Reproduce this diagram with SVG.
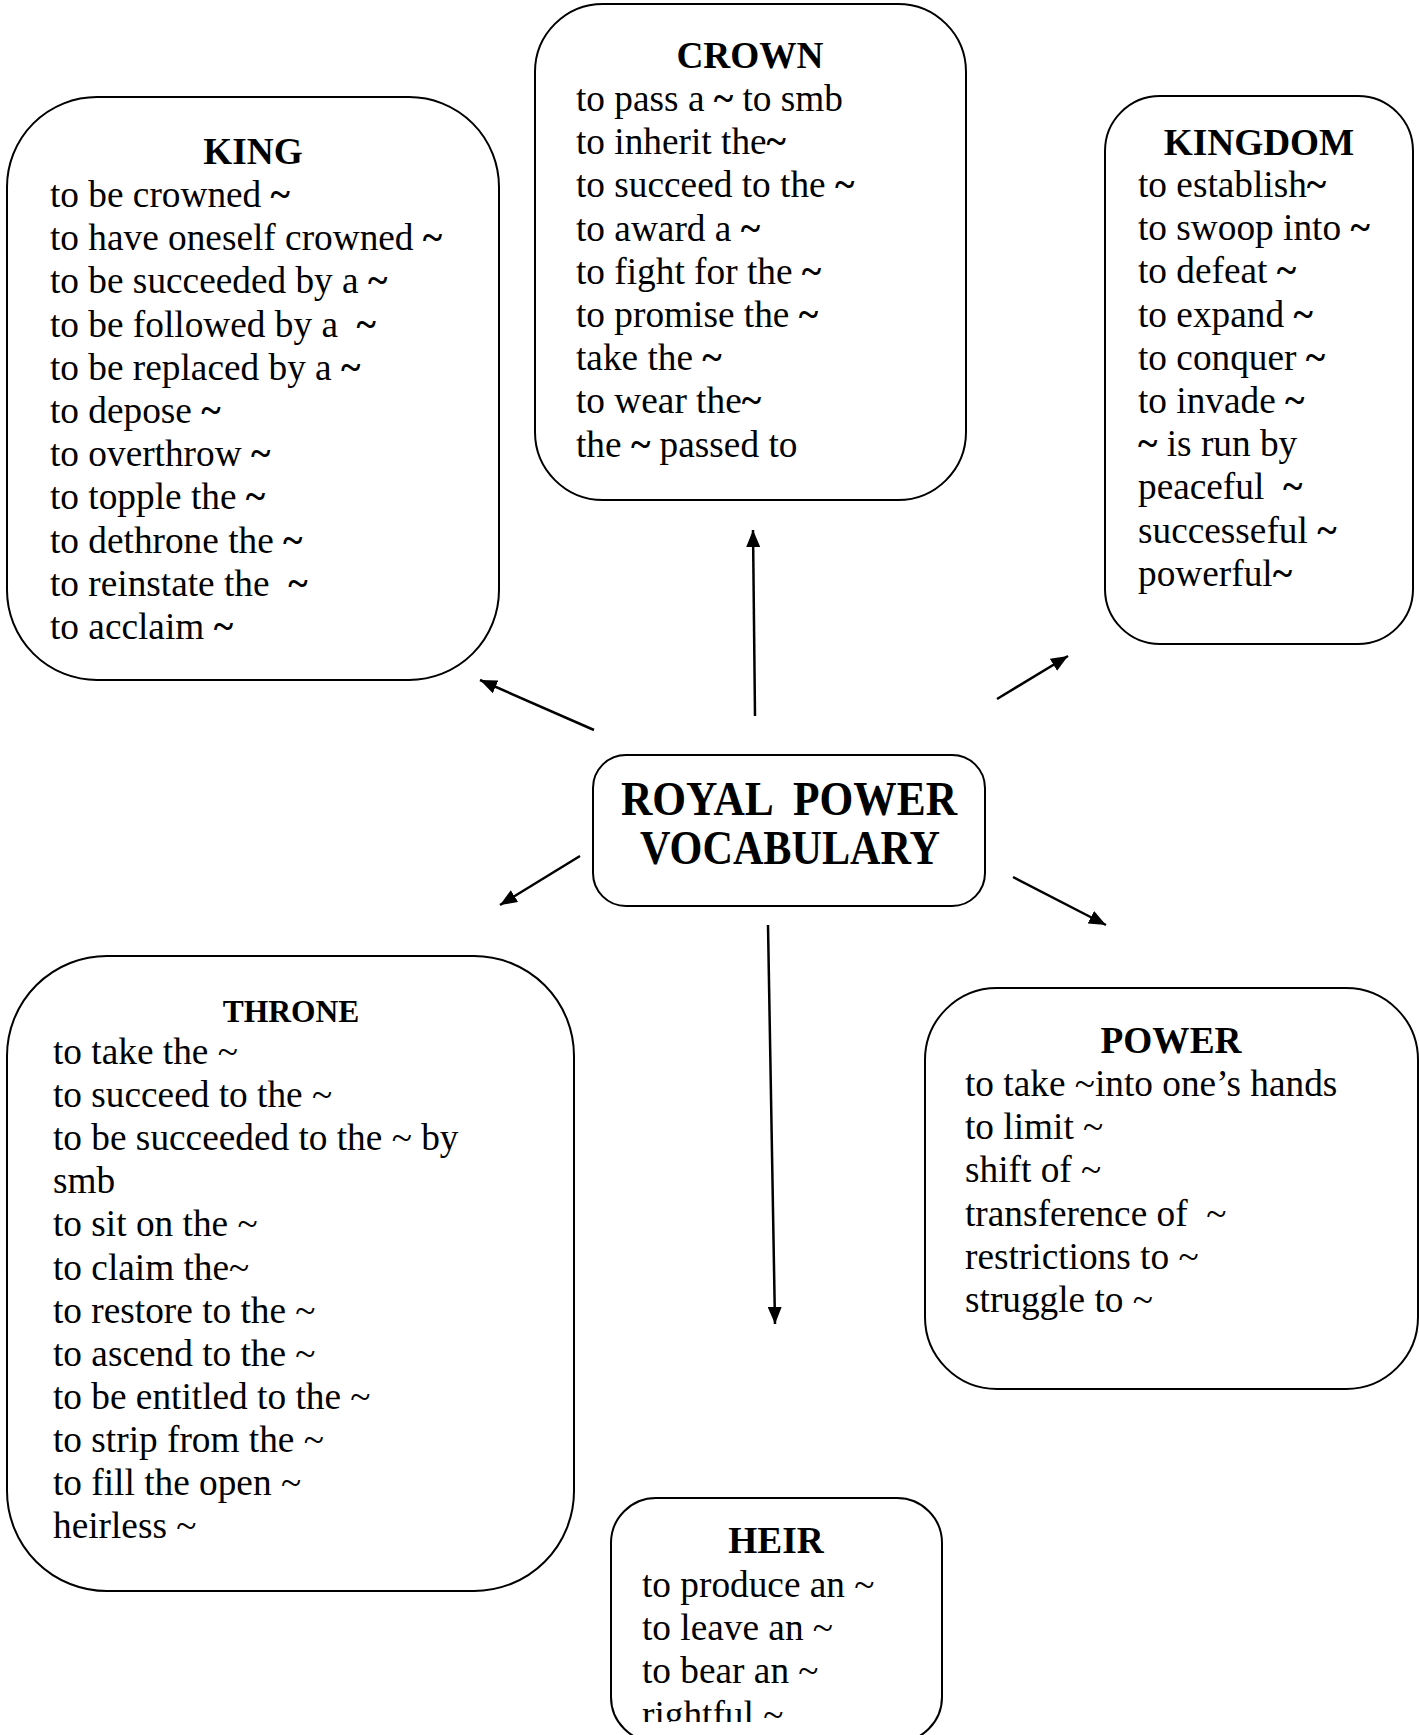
<svg xmlns="http://www.w3.org/2000/svg" width="1419" height="1735" viewBox="0 0 1419 1735">
<style>
  text { font-family: "Liberation Serif", "Times New Roman", serif; fill: #000; white-space: pre; }
  .t { font-size: 37.3px; }
  .h { font-size: 37.3px; font-weight: bold; text-anchor: middle; }
  .hs { font-size: 31.5px; font-weight: bold; text-anchor: middle; }
  .c { font-size: 48px; font-weight: bold; }
  .b { font-weight: bold; }
  .box { fill: #fff; stroke: #000; stroke-width: 2; }
  .con { stroke: #000; stroke-width: 2.5; fill: none; marker-end: url(#arr); }
</style>
<defs>
  <marker id="arr" markerUnits="userSpaceOnUse" markerWidth="18" markerHeight="14" refX="17" refY="7" orient="auto">
    <path d="M0,0 L17,7 L0,14 z" fill="#000"/>
  </marker>
  <clipPath id="heirclip"><rect x="600" y="1480" width="360" height="242"/></clipPath>
</defs>
<rect width="1419" height="1735" fill="#fff"/>

<g id="connectors">
  <line class="con" x1="594" y1="730" x2="480" y2="680"/>
  <line class="con" x1="755" y1="716" x2="753" y2="530"/>
  <line class="con" x1="997" y1="699" x2="1068" y2="656"/>
  <line class="con" x1="580" y1="856" x2="500" y2="905"/>
  <line class="con" x1="1013" y1="877" x2="1106" y2="925"/>
  <line class="con" x1="768" y1="925" x2="775" y2="1324"/>
</g>

<g id="king">
  <rect class="box" x="7" y="97" width="492" height="583" rx="90"/>
  <text class="h" x="253" y="164">KING</text>
  <text class="t" x="50" y="207">to be crowned <tspan class="b">~</tspan></text>
  <text class="t" x="50" y="250.2">to have oneself crowned <tspan class="b">~</tspan></text>
  <text class="t" x="50" y="293.4">to be succeeded by a <tspan class="b">~</tspan></text>
  <text class="t" x="50" y="336.6">to be followed by a  <tspan class="b">~</tspan></text>
  <text class="t" x="50" y="379.8">to be replaced by a <tspan class="b">~</tspan></text>
  <text class="t" x="50" y="423">to depose <tspan class="b">~</tspan></text>
  <text class="t" x="50" y="466.2">to overthrow <tspan class="b">~</tspan></text>
  <text class="t" x="50" y="509.4">to topple the <tspan class="b">~</tspan></text>
  <text class="t" x="50" y="552.6">to dethrone the <tspan class="b">~</tspan></text>
  <text class="t" x="50" y="595.8">to reinstate the  <tspan class="b">~</tspan></text>
  <text class="t" x="50" y="639">to acclaim <tspan class="b">~</tspan></text>
</g>

<g id="crown">
  <rect class="box" x="535" y="4" width="431" height="496" rx="68"/>
  <text class="h" x="750" y="68">CROWN</text>
  <text class="t" x="576" y="111">to pass a <tspan class="b">~</tspan> to smb</text>
  <text class="t" x="576" y="154.2">to inherit the<tspan class="b">~</tspan></text>
  <text class="t" x="576" y="197.4">to succeed to the <tspan class="b">~</tspan></text>
  <text class="t" x="576" y="240.6">to award a <tspan class="b">~</tspan></text>
  <text class="t" x="576" y="283.8">to fight for the <tspan class="b">~</tspan></text>
  <text class="t" x="576" y="327">to promise the <tspan class="b">~</tspan></text>
  <text class="t" x="576" y="370.2">take the <tspan class="b">~</tspan></text>
  <text class="t" x="576" y="413.4">to wear the<tspan class="b">~</tspan></text>
  <text class="t" x="576" y="456.6">the <tspan class="b">~</tspan> passed to</text>
</g>

<g id="kingdom">
  <rect class="box" x="1105" y="96" width="308" height="548" rx="55"/>
  <text class="h" x="1259" y="155">KINGDOM</text>
  <text class="t" x="1138" y="197">to establish<tspan class="b">~</tspan></text>
  <text class="t" x="1138" y="240.2">to swoop into <tspan class="b">~</tspan></text>
  <text class="t" x="1138" y="283.4">to defeat <tspan class="b">~</tspan></text>
  <text class="t" x="1138" y="326.6">to expand <tspan class="b">~</tspan></text>
  <text class="t" x="1138" y="369.8">to conquer <tspan class="b">~</tspan></text>
  <text class="t" x="1138" y="413">to invade <tspan class="b">~</tspan></text>
  <text class="t" x="1138" y="456.2"><tspan class="b">~</tspan> is run by</text>
  <text class="t" x="1138" y="499.4">peaceful  <tspan class="b">~</tspan></text>
  <text class="t" x="1138" y="542.6">successeful <tspan class="b">~</tspan></text>
  <text class="t" x="1138" y="585.8">powerful<tspan class="b">~</tspan></text>
</g>

<g id="center">
  <rect class="box" x="593" y="755" width="392" height="151" rx="33"/>
  <text class="c" x="621" y="815" textLength="336" lengthAdjust="spacingAndGlyphs">ROYAL  POWER</text>
  <text class="c" x="640" y="864" textLength="300" lengthAdjust="spacingAndGlyphs">VOCABULARY</text>
</g>

<g id="throne">
  <rect class="box" x="7" y="956" width="567" height="635" rx="100"/>
  <text class="hs" x="291" y="1022">THRONE</text>
  <text class="t" x="53" y="1064">to take the ~</text>
  <text class="t" x="53" y="1107.1">to succeed to the ~</text>
  <text class="t" x="53" y="1150.2">to be succeeded to the ~ by</text>
  <text class="t" x="53" y="1193.3">smb</text>
  <text class="t" x="53" y="1236.4">to sit on the ~</text>
  <text class="t" x="53" y="1279.5">to claim the~</text>
  <text class="t" x="53" y="1322.6">to restore to the ~</text>
  <text class="t" x="53" y="1365.7">to ascend to the ~</text>
  <text class="t" x="53" y="1408.8">to be entitled to the ~</text>
  <text class="t" x="53" y="1451.9">to strip from the ~</text>
  <text class="t" x="53" y="1495">to fill the open ~</text>
  <text class="t" x="53" y="1538.1">heirless ~</text>
</g>

<g id="power">
  <rect class="box" x="925" y="988" width="493" height="401" rx="72"/>
  <text class="h" x="1171" y="1053">POWER</text>
  <text class="t" x="965" y="1096">to take ~into one’s hands</text>
  <text class="t" x="965" y="1139.2">to limit ~</text>
  <text class="t" x="965" y="1182.4">shift of ~</text>
  <text class="t" x="965" y="1225.6">transference of  ~</text>
  <text class="t" x="965" y="1268.8">restrictions to ~</text>
  <text class="t" x="965" y="1312">struggle to ~</text>
</g>

<g id="heir">
  <rect class="box" x="611" y="1498" width="331" height="244" rx="45"/>
  <text class="h" x="776" y="1553">HEIR</text>
  <g clip-path="url(#heirclip)">
    <text class="t" x="642" y="1597">to produce an ~</text>
    <text class="t" x="642" y="1640.2">to leave an ~</text>
    <text class="t" x="642" y="1683.4">to bear an ~</text>
    <text class="t" x="642" y="1726.6">rightful ~</text>
  </g>
</g>
</svg>
